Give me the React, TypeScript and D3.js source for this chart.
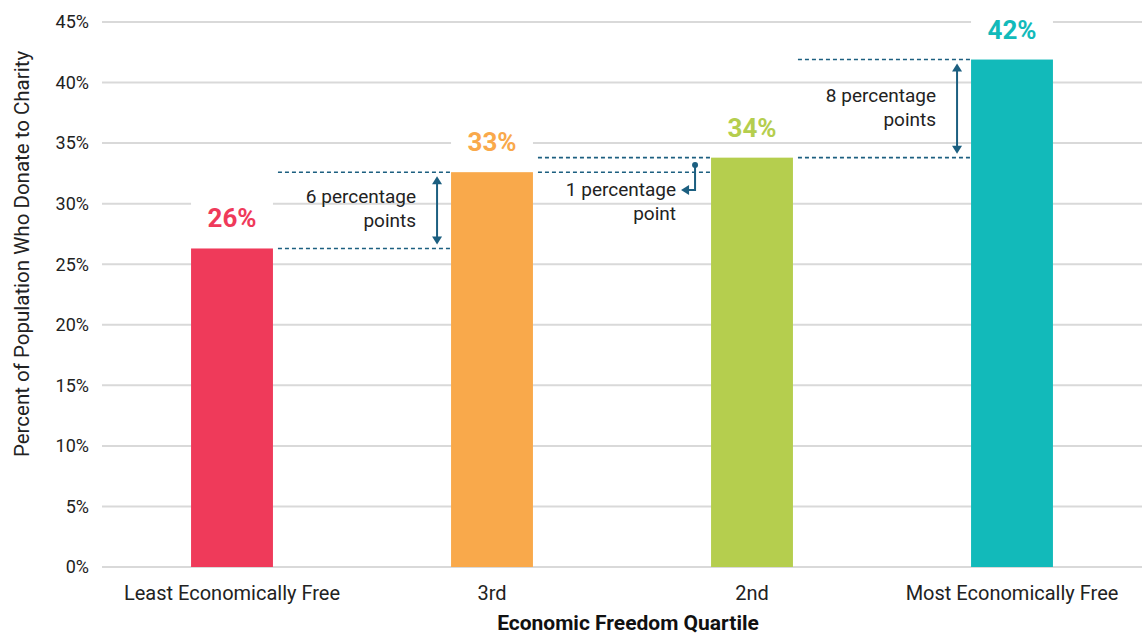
import React from 'react';
import * as d3 from 'd3';

const categories = ['Least Economically Free', '3rd', '2nd', 'Most Economically Free'];
const values = [26.3, 32.6, 33.8, 41.9];
const valueLabels = ['26%', '33%', '34%', '42%'];
const barColors = ['#EF3A5A', '#F9A94B', '#B5CE4E', '#12BABA'];
const yTicks = [0, 5, 10, 15, 20, 25, 30, 35, 40, 45];
// annotation between bar "from" and bar "to"
const gaps = [
  { from: 0, to: 1, lines: ['6 percentage', 'points'], kind: 'arrow' },
  { from: 1, to: 2, lines: ['1 percentage', 'point'], kind: 'elbow' },
  { from: 2, to: 3, lines: ['8 percentage', 'points'], kind: 'arrow' },
];

const W = 1142;
const H = 634;
const margin = { top: 22, right: 0, bottom: 67, left: 102 };
const FONT = 'Roboto, sans-serif';
const annColor = '#1C5F80';

export default function App() {
  const x = d3.scaleBand<string>()
    .domain(categories)
    .range([margin.left, W - margin.right])
    .paddingInner(0.685)
    .paddingOuter(0.3425);
  const y = d3.scaleLinear().domain([0, 45]).range([H - margin.bottom, margin.top]);
  const bw = x.bandwidth();

  return (
    <svg width={W} height={H} style={{ position: 'absolute', left: 0, top: 0, background: '#fff' }} fontFamily={FONT}>
      {/* grid */}
      {yTicks.map(t => (
        <g key={t}>
          <line x1={margin.left} x2={W} y1={y(t)} y2={y(t)} stroke="#D9D9D9" strokeWidth={2} />
          <text x={89} y={y(t)} dy="0.35em" textAnchor="end" fontSize={18} fill="#222">{t}%</text>
        </g>
      ))}

      {/* bars */}
      {categories.map((c, i) => (
        <g key={c}>
          <rect x={x(c)} y={y(values[i])} width={bw} height={y(0) - y(values[i])} fill={barColors[i]} />
          <rect x={x(c)} y={y(values[i]) - 50} width={bw} height={32} fill="#fff" />
          <text x={(x(c) as number) + bw / 2} y={y(values[i]) - 21} textAnchor="middle"
            fontSize={26} fontWeight={700} fill={barColors[i]}>{valueLabels[i]}</text>
          <text x={(x(c) as number) + bw / 2} y={y(0) + 33} textAnchor="middle" fontSize={20} fill="#222">{c}</text>
        </g>
      ))}

      {/* annotations */}
      {gaps.map((g, k) => {
        const x0 = (x(categories[g.from]) as number) + bw + 5;
        const x1 = x(categories[g.to]) as number;
        const yLo = y(values[g.from]);
        const yHi = y(values[g.to]);
        const mid = (yLo + yHi) / 2;
        const ax = x1 - 14;
        const textX = x1 - 35;
        return (
          <g key={k}>
            <line x1={x0} x2={x1} y1={yLo} y2={yLo} stroke={annColor} strokeWidth={1.6} strokeDasharray="4 3" />
            <line x1={x0} x2={x1} y1={yHi} y2={yHi} stroke={annColor} strokeWidth={1.6} strokeDasharray="4 3" />
            {g.kind === 'arrow' ? (
              <g>
                <line x1={ax} x2={ax} y1={yHi + 8} y2={yLo - 8} stroke={annColor} strokeWidth={2} />
                <path d={`M${ax - 5},${yHi + 12}L${ax},${yHi + 4}L${ax + 5},${yHi + 12}Z`} fill={annColor} />
                <path d={`M${ax - 5},${yLo - 12}L${ax},${yLo - 4}L${ax + 5},${yLo - 12}Z`} fill={annColor} />
              </g>
            ) : (
              <g>
                <circle cx={x1 - 16} cy={mid} r={3} fill={annColor} />
                <path d={`M${x1 - 16},${mid}V${mid + 25}H${x1 - 24}`} fill="none" stroke={annColor} strokeWidth={2} />
                <path d={`M${x1 - 22},${mid + 20}L${x1 - 30},${mid + 25}L${x1 - 22},${mid + 30}Z`} fill={annColor} />
              </g>
            )}
            <text x={textX} y={g.kind === 'arrow' ? mid - 7 : mid + 31} textAnchor="end" fontSize={19} fill="#222">
              <tspan x={textX}>{g.lines[0]}</tspan>
              <tspan x={textX} dy={24}>{g.lines[1]}</tspan>
            </text>
          </g>
        );
      })}

      {/* axis titles */}
      <text transform="translate(29,254) rotate(-90)" textAnchor="middle" fontSize={20.5} fill="#222">
        Percent of Population Who Donate to Charity
      </text>
      <text x={(margin.left + W) / 2 + 6} y={630} textAnchor="middle" fontSize={21} fontWeight={700} fill="#111">
        Economic Freedom Quartile
      </text>
    </svg>
  );
}
